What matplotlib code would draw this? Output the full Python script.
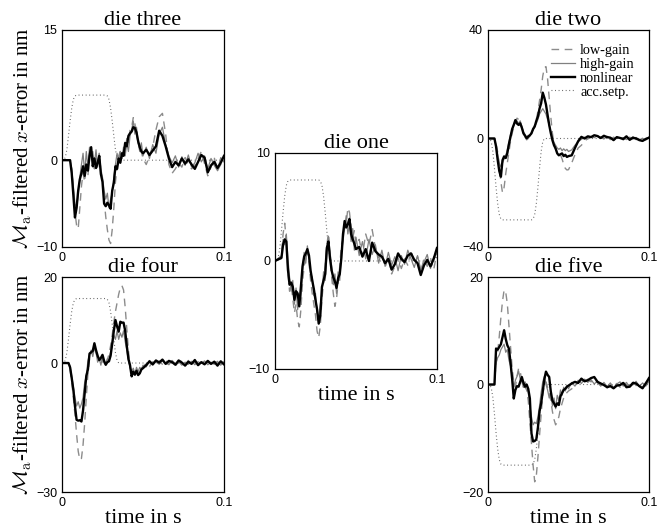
import numpy as np
import matplotlib
matplotlib.use('Agg')
import matplotlib.pyplot as plt

plt.rcParams['font.family'] = 'serif'
plt.rcParams['font.serif'] = ['Liberation Serif', 'DejaVu Serif']
plt.rcParams['mathtext.fontset'] = 'cm'

# sample instants in ms (1 ms steps first, then 2 ms)
T_MS = [0, 4] + list(range(5, 50)) + list(range(50, 101, 2))
# setpoint keypoints in ms
SP_MS = [0, 1, 2, 3, 4, 5, 6, 7, 8, 9, 27, 28, 29, 30, 31, 32, 33, 34, 35, 100]

# die three
nl3 = [0, 0,
       0, -1.5, -4.0, -6.6, -5.5, -3.5, -2.2, -1.5, -0.7, -1.8,
       -0.5, -1.2, 0.5, 1.5, -0.7, 0.2, -0.9, -0.3, 0.5, -1.6,
       -2.5, -5.0, -5.3, -4.9, -5.2, -5.6, -3.5, -2.6, -0.7, -1.0,
       0.2, -0.3, 0.8, 0.5, 2.0, 1.6, 2.8, 3.1, 3.3, 3.8,
       3.7, 3.2, 2.2, 1.5, 1.0,
       0.8, 1.2, 0.6, 1.1, 1.6, 3.4, 2.8, 1.6, 0.2, -0.8,
       -0.2, -0.6, 0.2, -0.4, 0.1, -0.5, -1.0, -0.2, 0.6, 0.3,
       -1.4, -0.6, -0.2, -0.9, -0.3, 0.5]
lo3 = [0, 0,
       0, -1.0, -3.5, -6.0, -7.5, -7.9, -5.5, -3.0, -1.5, -2.5,
       -0.5, -1.8, 0.5, 1.2, 0.0, -1.0, 0.2, -0.5, 0.8, -1.2,
       -2.5, -4.5, -6.5, -8.0, -9.2, -9.6, -8.0, -5.5, -2.5, -0.8,
       0.5, 1.0, 0.2, 1.5, 1.0, 2.5, 2.0, 3.5, 3.8, 4.9,
       4.2, 3.0, 2.0, 1.5, 1.0,
       0.2, -0.5, 0.5, 1.5, 3.5, 5.0, 5.4, 3.0, -0.5, -1.5,
       -1.0, -0.3, -0.8, 0.3, -0.5, -1.0, -0.6, 0.2, 1.0, -0.4,
       -1.8, -0.8, 0.3, -1.2, -0.5, 0.2]
hi3 = [0, 0,
       0, -1.0, -3.0, -5.0, -5.5, -4.0, -2.0, -0.5, 0.8, -1.5,
       1.0, -0.8, 1.5, 0.5, 1.0, -0.5, 1.2, -0.8, 0.6, -1.0,
       -2.0, -3.5, -4.5, -3.8, -5.5, -4.5, -3.8, -2.0, -0.5, 0.8,
       -0.2, 1.0, 0.3, 1.5, 0.5, 2.0, 1.0, 2.8, 3.5, 4.5,
       3.0, 3.8, 2.0, 1.0, 2.0,
       0.5, 1.5, 0.2, 1.8, 0.8, 3.0, 3.8, 1.8, 0.5, -0.3,
       0.5, -0.8, 0.4, -0.6, 0.6, -0.8, -0.3, 0.8, -0.2, 0.5,
       -1.0, 0.2, -0.6, -1.2, 0.3, -0.2]
sp3 = [0, 0, 0.3, 1.2, 2.8, 4.5, 6.0, 7.0, 7.4, 7.5,
       7.5, 7.4, 7.0, 6.0, 4.5, 2.8, 1.2, 0.3, 0, 0]

# die four
nl4 = [0, 0,
       -1.0, -3.5, -6.2, -10.0, -13.2, -13.4, -13.3, -13.6, -11.0, -7.0,
       -3.0, -1.5, 2.2, 2.5, 2.8, 4.6, 3.0, 1.7, 0.7, 1.2,
       1.9, 0.5, -0.4, 0.2, 0.4, 1.7, 4.5, 7.5, 10.0, 8.5,
       7.3, 9.6, 9.4, 9.4, 7.5, 4.0, 1.0, -0.5, -3.1, -2.0,
       -2.7, -1.8, -2.8, -2.4, -1.5,
       -1.2, -0.5, 0.4, -0.3, 0.6, 0.1, 0.8, -0.2, 0.5, 0.2,
       -0.4, 0.6, 0.1, -0.6, 0.3, -0.2, 0.7, -0.5, 0.2, -0.3,
       0.5, -0.2, 0.3, -0.6, 0.4, -0.3]
lo4 = [0, 0,
       -1.5, -4.5, -8.0, -12.0, -16.5, -20.5, -22.5, -22.2, -19.0, -14.0,
       -8.0, -2.5, 1.0, 2.5, 3.0, 4.0, 2.5, 1.0, 0.3, 1.0,
       0.5, -0.5, 0.0, 0.8, 2.0, 4.0, 6.5, 9.5, 12.0, 14.0,
       16.0, 17.5, 18.0, 17.0, 13.0, 8.0, 3.0, -1.0, -2.5, -2.2,
       -2.8, -2.0, -2.5, -1.8, -1.2,
       -1.0, 0.0, -0.8, 0.3, -0.5, 0.5, -0.3, 0.6, -0.1, 0.4,
       -0.6, 0.2, 0.5, -0.4, 0.6, -0.5, 0.2, -0.3, 0.5, -0.2,
       0.3, -0.5, 0.4, 0.0, -0.4, 0.2]
hi4 = [0, 0,
       -0.8, -3.0, -5.5, -8.0, -10.0, -9.0, -10.5, -9.5, -8.0, -4.5,
       -3.0, 0.5, 2.0, 3.0, 1.5, 3.5, 2.5, 0.2, 1.0, -0.5,
       1.5, 0.0, -0.5, 1.0, 0.5, 2.5, 4.0, 6.5, 5.5, 7.5,
       5.5, 7.0, 6.0, 7.5, 5.0, 3.0, 0.5, -1.0, -2.0, -1.2,
       -2.5, -1.0, -2.0, -1.0, -1.5,
       -0.5, -0.9, 0.6, -0.5, 0.3, -0.3, 0.5, 0.0, -0.4, 0.6,
       -0.2, 0.3, -0.5, 0.2, -0.3, 0.4, -0.4, 0.3, -0.1, 0.5,
       -0.4, 0.2, -0.3, 0.4, -0.5, 0.3]
sp4 = [0, 0, 0.6, 2.4, 5.5, 9.0, 12.0, 14.0, 14.8, 15.0,
       15.0, 14.8, 14.0, 12.0, 9.0, 5.5, 2.4, 0.6, 0, 0]

# die one
nl1 = [0, 0.3,
       1.5, 2.0, 1.8, -0.8, -2.2, -2.0, -2.4, -3.6, -2.8, -3.0,
       -4.2, -2.4, -0.5, 0.4, 0.7, 1.1, 0.5, -0.9, -1.8, -2.6,
       -3.6, -4.5, -5.8, -5.0, -2.4, -1.8, -1.2, 1.2, 1.8, 0.2,
       -0.9, -1.5, -1.9, -2.5, -1.6, -1.2, 0.3, 2.5, 3.7, 3.1,
       3.4, 3.9, 2.5, 2.0, 1.6,
       1.1, 1.3, 0.4, 1.1, 0.0, 1.7, 0.9, 0.6, 0.4, -0.2,
       0.2, -0.8, -0.3, 0.7, 0.2, -0.1, 0.5, 0.7, 0.1, -0.2,
       -1.3, -0.4, 0.1, -0.5, 0.2, 1.2]
lo1 = [0, 0.5,
       2.5, 3.5, 2.0, -1.0, -2.8, -2.2, -3.5, -4.8, -4.0, -5.5,
       -6.1, -4.5, -2.0, -0.5, 0.2, 1.0, -0.2, -1.8, -3.0, -4.0,
       -5.0, -6.5, -7.1, -6.0, -3.5, -2.0, -0.5, 1.5, 2.5, 0.5,
       -1.5, -3.0, -4.2, -3.5, -2.0, -0.5, 1.5, 2.0, 3.0, 3.5,
       4.9, 4.5, 3.2, 2.2, 2.8,
       1.5, 2.0, 0.5, 2.5, 1.5, 2.9, 1.2, 0.3, 0.8, -0.6,
       0.4, -1.2, -0.5, 0.3, -0.7, 0.2, -0.4, 1.0, -0.3, 0.4,
       -1.0, 0.2, -0.5, 0.3, -0.8, 0.8]
hi1 = [0, 0.2,
       2.0, 1.5, 2.5, 0.2, -1.5, -2.8, -1.8, -4.0, -2.5, -4.5,
       -3.2, -3.5, -1.0, 0.8, -0.2, 1.4, 0.2, -1.2, -1.5, -3.2,
       -3.0, -4.8, -5.2, -4.0, -3.0, -1.0, -1.8, 0.5, 2.3, 0.8,
       -0.5, -2.2, -1.2, -3.0, -1.0, -1.8, 0.8, 1.8, 3.2, 4.2,
       2.5, 3.5, 1.8, 3.0, 1.0,
       2.2, 0.5, 1.8, 0.2, 2.0, 0.6, 1.5, -0.2, 1.0, -0.5,
       0.8, -0.4, 0.4, -0.9, 0.5, -0.3, 1.0, 0.2, -0.6, 0.5,
       -0.8, -0.1, 0.6, -0.7, 0.4, 0.3]
sp1 = [0, 0, 0.3, 1.2, 2.8, 4.5, 6.0, 7.0, 7.4, 7.5,
       7.5, 7.4, 7.0, 6.0, 4.5, 2.8, 1.2, 0.3, 0, 0]

# die two
nl2 = [0, 0,
       -3.0, -7.9, -12.0, -14.1, -8.0, -6.6, -7.2, -5.4, -2.0, 0.7,
       3.5, 5.0, 6.8, 5.5, 5.0, 5.6, 4.0, 1.9, 1.0, 0.1,
       0.7, 1.2, 1.9, 3.5, 4.4, 6.5, 8.1, 11.0, 13.0, 16.9,
       15.0, 12.5, 8.7, 5.0, 2.0, -0.6, -2.5, -3.7, -5.5, -6.2,
       -5.8, -5.5, -6.5, -6.0, -6.8,
       -6.5, -6.2, -3.5, -1.0, 0.6, 0.0, 0.8, 0.5, 1.2, 0.9,
       0.2, 1.0, 0.5, 0.3, -0.6, 0.5, 0.2, -0.2, 0.8, -0.5,
       0.3, 0.0, -0.6, -0.9, -0.2, 0.3]
lo2 = [0, 0,
       -2.0, -5.0, -10.0, -16.0, -20.0, -18.0, -13.0, -9.0, -5.0, -1.0,
       2.0, 4.0, 6.0, 7.5, 7.0, 6.0, 4.0, 2.0, 0.5, -0.5,
       0.0, 1.0, 2.0, 3.5, 5.0, 7.0, 10.0, 14.0, 18.0, 23.0,
       26.0, 26.5, 22.0, 15.0, 8.0, 2.0, -2.0, -4.0, -5.0, -5.5,
       -6.0, -7.5, -9.5, -11.0, -11.6,
       -11.5, -9.0, -6.0, -3.5, -2.5, -1.0, 0.0, 0.5, 0.2, 0.8,
       0.0, 0.6, 0.3, -0.4, 0.5, -0.2, 0.4, -0.5, 0.3, -0.3,
       0.6, -0.4, 0.2, -0.7, 0.0, 0.4]
hi2 = [0, 0,
       -2.5, -6.0, -9.0, -10.5, -9.0, -7.5, -6.5, -4.0, -1.5, 1.5,
       3.0, 5.5, 6.0, 6.5, 5.5, 6.5, 4.5, 2.5, 1.5, 0.5,
       1.2, 0.8, 2.5, 3.0, 4.5, 5.5, 7.0, 9.0, 10.0, 11.0,
       10.0, 9.0, 7.0, 5.0, 2.5, 0.5, -1.5, -2.5, -3.5, -4.0,
       -3.5, -4.5, -3.8, -4.5, -4.0,
       -4.8, -4.2, -2.5, -1.2, -0.3, 0.5, -0.2, 0.8, 0.3, 1.0,
       0.4, -0.2, 0.8, 0.1, -0.5, 0.6, 0.0, 0.3, -0.4, 0.5,
       -0.2, 0.4, -0.5, 0.1, -0.6, 0.5]
sp2 = [0, 0, -1.2, -4.8, -11.0, -18.0, -24.0, -28.0, -29.7, -30.0,
       -30.0, -29.7, -28.0, -24.0, -18.0, -11.0, -4.8, -1.2, 0, 0]

# die five
nl5 = [0, 0,
       6.7, 6.5, 7.0, 7.5, 8.8, 10.1, 8.5, 7.3, 6.7, 4.0,
       1.0, -2.6, -1.0, -0.3, -0.4, 0.5, 1.4, 0.3, -0.4, 0.0,
       -0.8, -2.6, -9.1, -10.6, -10.5, -10.2, -8.0, -5.0, -3.5, -1.3,
       1.0, 2.4, 1.8, 1.4, -1.3, -3.0, -3.5, -4.1, -3.5, -3.8,
       -2.2, -1.6, -1.0, -0.8, -0.4,
       -0.2, 0.2, 0.5, 0.3, 1.1, 0.6, 0.8, 1.2, 1.4, 0.5,
       0.2, -0.1, -0.5, -0.3, -0.7, -0.2, -0.1, 0.3, -0.5, -0.4,
       0.3, 0.2, -0.3, -0.7, 0.2, 1.2]
lo5 = [0, 0,
       4.0, 6.0, 9.0, 12.5, 15.5, 17.6, 17.2, 15.0, 11.0, 7.0,
       3.0, 0.5, -0.5, 1.5, 3.0, 2.5, 0.5, -0.5, -0.5, -1.0,
       -3.0, -7.0, -11.0, -15.0, -18.1, -17.0, -13.5, -9.5, -5.5, -2.0,
       0.0, 0.5, -0.5, -1.5, -3.0, -5.0, -6.5, -7.5, -7.0, -6.0,
       -4.5, -3.5, -2.5, -2.0, -1.5,
       -1.2, -0.8, -0.2, 0.3, 0.8, 0.4, 1.0, 0.5, 0.9, 0.3,
       -0.2, 0.3, -0.6, 0.0, -0.4, 0.2, -0.5, 0.4, -0.3, 0.1,
       0.6, -0.2, 0.3, -0.5, 0.4, 0.0]
hi5 = [0, 0,
       4.0, 5.0, 5.5, 6.5, 7.0, 7.5, 6.0, 6.5, 4.5, 3.5,
       1.5, -0.5, 0.8, 1.5, 2.5, 1.0, 0.5, -0.5, 0.5, -0.3,
       -1.5, -4.0, -6.0, -7.5, -7.0, -7.3, -6.0, -4.0, -1.5, 0.5,
       1.5, 0.0, -1.0, -2.5, -1.5, -4.0, -2.5, -4.5, -2.0, -3.0,
       -1.0, -2.0, -0.5, -1.2, -0.2,
       -0.8, 0.4, -0.3, 0.8, 0.2, 1.0, 0.4, 0.9, 0.1, 0.7,
       -0.3, 0.4, -0.4, 0.3, -0.6, 0.1, 0.5, -0.3, 0.4, -0.5,
       0.0, 0.6, -0.4, 0.3, -0.3, 0.6]
sp5 = [0, 0, -0.6, -2.4, -5.5, -9.0, -12.0, -14.0, -14.8, -15.0,
       -15.0, -14.8, -14.0, -12.0, -9.0, -5.5, -2.4, -0.6, 0, 0]

panels = [
    # title, axes rect, ylim, data, ylabel, xlabel, legend
    ('die three', [0.0924, 0.5331, 0.2414, 0.4102], (-10, 15), (lo3, hi3, nl3, sp3), True, False, False),
    ('die four', [0.0924, 0.0699, 0.2414, 0.4064], (-30, 20), (lo4, hi4, nl4, sp4), True, True, False),
    ('die one', [0.4098, 0.3025, 0.2414, 0.4083], (-10, 10), (lo1, hi1, nl1, sp1), False, True, False),
    ('die two', [0.7273, 0.5331, 0.2399, 0.4102], (-40, 40), (lo2, hi2, nl2, sp2), False, False, True),
    ('die five', [0.7273, 0.0699, 0.2399, 0.4064], (-20, 20), (lo5, hi5, nl5, sp5), False, True, False),
]

t = np.array(T_MS) / 1000.0
tsp = np.array(SP_MS) / 1000.0

fig = plt.figure(figsize=(6.71, 5.29), dpi=100)

for title, rect, ylim, (lo, hi, nl, sp), ylab, xlab, leg in panels:
    ax = fig.add_axes(rect)
    ax.plot(t, lo, color='0.55', lw=1.0, dashes=(5.5, 4), label='low-gain')
    ax.plot(t, hi, color='0.5', lw=0.9, label='high-gain')
    ax.plot(t, nl, color='black', lw=1.7, label='nonlinear')
    ax.plot(tsp, sp, color='0.35', lw=0.8, dashes=(0.8, 2.4), label='acc.setp.', zorder=1)
    ax.set_xlim(0, 0.1)
    ax.set_ylim(*ylim)
    ax.set_xticks([0, 0.1])
    ax.set_xticklabels(['0', '0.1'])
    ax.set_yticks([ylim[0], 0, ylim[1]])
    ax.tick_params(length=0, labelsize=9, pad=3.5)
    for lbl in ax.get_xticklabels() + ax.get_yticklabels():
        lbl.set_family('Liberation Sans')
    for s in ax.spines.values():
        s.set_linewidth(0.9)
    ax.set_title(title, fontsize=16, pad=3)
    if ylab:
        ax.set_ylabel(r'$\mathcal{M}_\mathrm{a}$-filtered $x$-error in nm', fontsize=15)
        ax.yaxis.set_label_coords(-0.175, 0.5)
    if xlab:
        ax.set_xlabel('time in s', fontsize=16, labelpad=0)
    if leg:
        ax.legend(loc='upper right', frameon=False, fontsize=10.3, handlelength=1.7,
                  handletextpad=0.35, labelspacing=0.05, borderaxespad=0.6)

fig.savefig('out.png', dpi=100)
